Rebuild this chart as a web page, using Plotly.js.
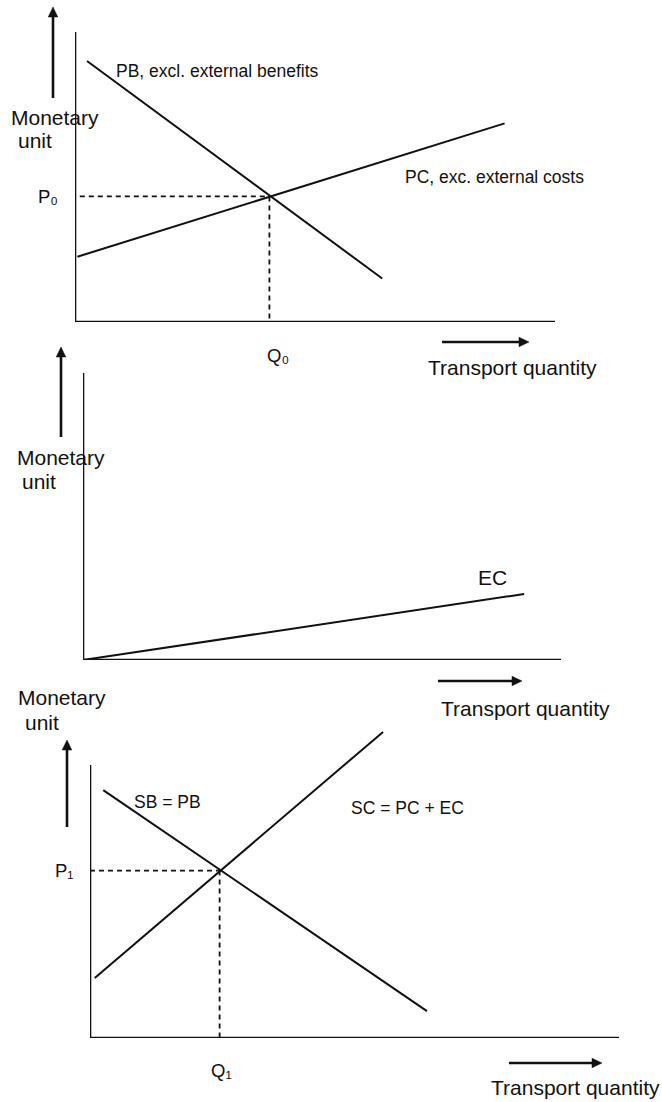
<!DOCTYPE html>
<html>
<head>
<meta charset="utf-8">
<script src="https://cdn.plot.ly/plotly-3.0.1.min.js"></script>
<style>html,body{margin:0;padding:0;background:#fff;}#chart{width:662px;height:1102px;}</style>
</head>
<body>
<div id="chart"></div>
<script>
// ---- Data (arbitrary units 0-10) ----
// Panel 1: private benefits / private costs
const pbX = [0.25, 6.4];
const pbY = [9.0, 1.5];
const pcX = [0.05, 8.95];
const pcY = [2.25, 6.85];
const q0 = 4.05;
const p0 = 4.33;
// Panel 2: external costs
const ecX = [0, 9.23];
const ecY = [0, 2.3];
// Panel 3: social benefits / social costs
const sbX = [0.25, 6.37];
const sbY = [7.92, 0.86];
const scX = [0.09, 5.54];
const scY = [1.92, 9.78];
const q1 = 2.45;
const p1 = 5.35;
// Labels
const yLabel = ["Monetary", "unit"];
const xLabel = "Transport quantity";
const curveLabels = ["PB, excl. external benefits", "PC, exc. external costs", "EC", "SB = PB", "SC = PC + EC"];
const pLabels = ["P\u2080", "P\u2081"];
const qLabels = ["Q\u2080", "Q\u2081"];

const W = 662, H = 1102;
const PX = x => x / W;
const PY = y => 1 - y / H;
const FONT = "Liberation Sans, Arial, sans-serif";
const INK = "#111";
const BIG = 21, SMALL = 17.5;

const solid = {color: INK, width: 2};
const dashed = {color: INK, width: 1.8, dash: "5px,4px"};

const traces = [
  {x: pbX, y: pbY, xaxis: "x", yaxis: "y", mode: "lines", line: solid},
  {x: pcX, y: pcY, xaxis: "x", yaxis: "y", mode: "lines", line: solid},
  {x: [0.1, q0], y: [p0, p0], xaxis: "x", yaxis: "y", mode: "lines", line: dashed},
  {x: [q0, q0], y: [p0, 0], xaxis: "x", yaxis: "y", mode: "lines", line: dashed},
  {x: ecX, y: ecY, xaxis: "x2", yaxis: "y2", mode: "lines", line: solid},
  {x: sbX, y: sbY, xaxis: "x3", yaxis: "y3", mode: "lines", line: solid},
  {x: scX, y: scY, xaxis: "x3", yaxis: "y3", mode: "lines", line: solid},
  {x: [0, q1], y: [p1, p1], xaxis: "x3", yaxis: "y3", mode: "lines", line: dashed},
  {x: [q1, q1], y: [p1, 0], xaxis: "x3", yaxis: "y3", mode: "lines", line: dashed}
].map(t => Object.assign({hoverinfo: "skip", showlegend: false}, t));

const hidden = {showgrid: false, zeroline: false, showticklabels: false, ticks: "", showline: false, fixedrange: true};

function axisShapes(xr, yr, yTop) {
  const ln = {color: INK, width: 2.6};
  return [
    {type: "line", xref: xr, yref: yr, x0: 0, x1: 10, y0: 0, y1: 0, line: ln},
    {type: "line", xref: xr, yref: yr, x0: 0, x1: 0, y0: 0, y1: yTop, line: ln}
  ];
}

// arrow drawn as a line + filled triangular head (pixel positions converted to paper)
function arrowShapes(tx, ty, hx, hy) {
  const L = 10, Wd = 4.8;
  const dx = hx - tx, dy = hy - ty, len = Math.hypot(dx, dy);
  const ux = dx / len, uy = dy / len;
  const bx = hx - ux * L, by = hy - uy * L;
  const nx = -uy, ny = ux;
  const p = (x, y) => PX(x) + "," + PY(y);
  return [
    {type: "line", xref: "paper", yref: "paper", x0: PX(tx), y0: PY(ty), x1: PX(bx + ux), y1: PY(by + uy),
     line: {color: INK, width: 2.6}},
    {type: "path", xref: "paper", yref: "paper",
     path: "M" + p(hx, hy) + " L" + p(bx + nx * Wd, by + ny * Wd) + " L" + p(bx - nx * Wd, by - ny * Wd) + " Z",
     fillcolor: INK, line: {color: INK, width: 0.5}}
  ];
}

function label(text, x, y, size, anchor) {
  return {xref: "paper", yref: "paper", x: PX(x), y: PY(y), text: text, showarrow: false,
          xanchor: anchor || "left", yanchor: "middle", font: {family: FONT, size: size, color: INK}};
}

const annotations = [
  // Panel 1
  label(yLabel[0], 9, 117, BIG), label(yLabel[1], 16, 140, BIG),
  label(curveLabels[0], 114, 71, SMALL),
  label(curveLabels[1], 403, 177, SMALL),
  {xref: "x", yref: "y", x: 0, y: p0, text: pLabels[0], showarrow: false, xanchor: "center", yanchor: "middle",
   xshift: -27, font: {family: FONT, size: SMALL + 1, color: INK}},
  {xref: "x", yref: "y", x: q0, y: 0, text: qLabels[0], showarrow: false, xanchor: "center", yanchor: "middle",
   xshift: 9, yshift: -33, font: {family: FONT, size: SMALL + 1, color: INK}},
  label(xLabel, 426, 368, BIG),
  // Panel 2
  label(yLabel[0], 15, 457, BIG), label(yLabel[1], 20, 481, BIG),
  label(curveLabels[2], 476, 577, BIG),
  label(xLabel, 439, 708, BIG),
  // Panel 3
  label(yLabel[0], 16, 697, BIG), label(yLabel[1], 23, 722, BIG),
  label(curveLabels[3], 132, 802, SMALL),
  label(curveLabels[4], 349, 808, SMALL),
  {xref: "x3", yref: "y3", x: 0, y: p1, text: pLabels[1], showarrow: false, xanchor: "center", yanchor: "middle",
   xshift: -26, font: {family: FONT, size: SMALL + 1, color: INK}},
  {xref: "x3", yref: "y3", x: q1, y: 0, text: qLabels[1], showarrow: false, xanchor: "center", yanchor: "middle",
   xshift: 2, yshift: -32, font: {family: FONT, size: SMALL + 1, color: INK}},
  label(xLabel, 489, 1087, BIG)
];

const layout = {
  width: W, height: H,
  margin: {l: 0, r: 0, t: 0, b: 0, pad: 0},
  paper_bgcolor: "#fff", plot_bgcolor: "rgba(0,0,0,0)",
  showlegend: false,
  xaxis:  Object.assign({domain: [PX(75), PX(555)], range: [0, 10], anchor: "y"}, hidden),
  yaxis:  Object.assign({domain: [PY(322), PY(32)], range: [0, 10], anchor: "x"}, hidden),
  xaxis2: Object.assign({domain: [PX(83), PX(561)], range: [0, 10], anchor: "y2"}, hidden),
  yaxis2: Object.assign({domain: [PY(660), PY(373)], range: [0, 10], anchor: "x2"}, hidden),
  xaxis3: Object.assign({domain: [PX(90), PX(619)], range: [0, 10], anchor: "y3"}, hidden),
  yaxis3: Object.assign({domain: [PY(1038), PY(725)], range: [0, 10], anchor: "x3"}, hidden),
  shapes: [].concat(
    axisShapes("x", "y", 10), axisShapes("x2", "y2", 10), axisShapes("x3", "y3", 8.72),
    arrowShapes(53, 98, 53, 7), arrowShapes(442, 342, 529, 342),
    arrowShapes(61, 437, 61, 347), arrowShapes(438, 681, 522, 681),
    arrowShapes(67, 827, 67, 740), arrowShapes(509, 1063, 602, 1063)
  ),
  annotations: annotations,
  font: {family: FONT, color: INK}
};

Plotly.newPlot("chart", traces, layout, {staticPlot: true, displayModeBar: false});
</script>
</body>
</html>
